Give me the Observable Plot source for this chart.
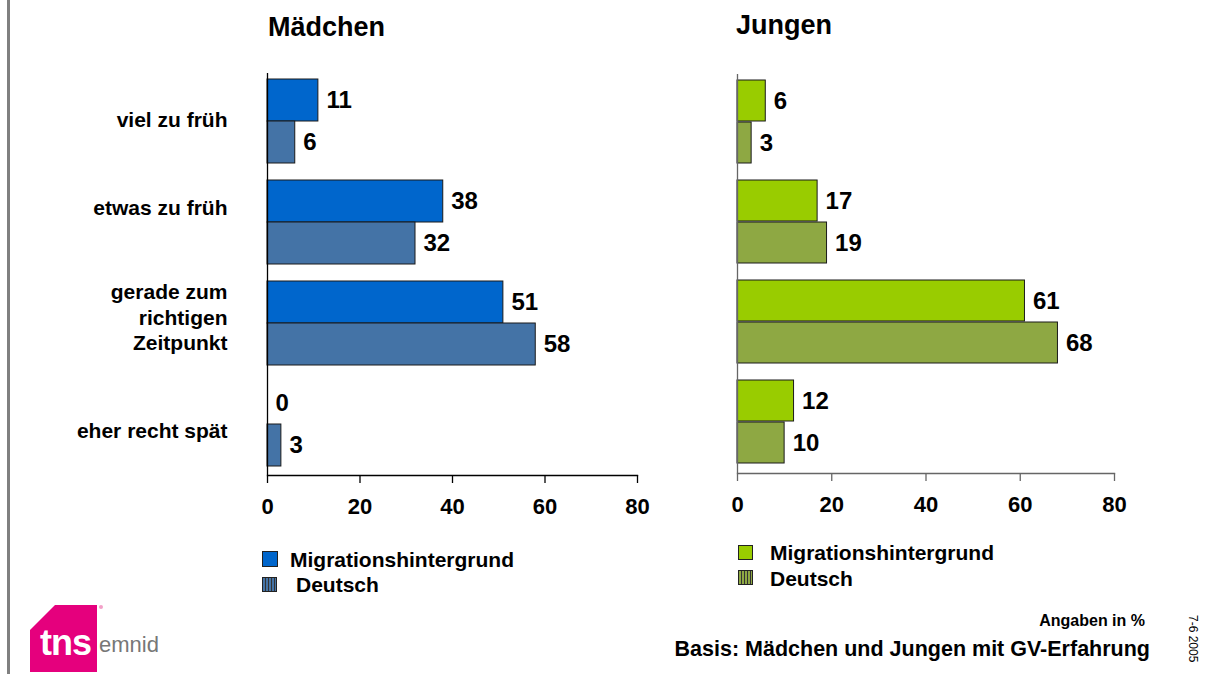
<!DOCTYPE html>
<html><head><meta charset="utf-8">
<script src="https://cdn.jsdelivr.net/npm/d3@7"></script>
<script src="https://cdn.jsdelivr.net/npm/@observablehq/plot@0.6"></script>
<style>
body{margin:0;background:#fff;font-family:"Liberation Sans",Arial,sans-serif;}
#root{position:relative;width:1206px;height:674px;overflow:hidden;background:#fff;}
.abs{position:absolute;white-space:nowrap;font-weight:bold;color:#000;line-height:1;}
.sw{position:absolute;box-sizing:border-box;border:1px solid #222;}
.plot{position:absolute;top:0;}
</style></head><body><div id="root"></div>
<script>
const categories = ["viel zu früh", "etwas zu früh", "gerade zum richtigen Zeitpunkt", "eher recht spät"];
const categoryLabels = ["viel zu früh", "etwas zu früh", "gerade zum\nrichtigen\nZeitpunkt", "eher recht spät"];
const series = ["Migrationshintergrund", "Deutsch"];
const maedchenMigration = [11, 38, 51, 0];
const maedchenDeutsch = [6, 32, 58, 3];
const jungenMigration = [6, 17, 61, 12];
const jungenDeutsch = [3, 19, 68, 10];
const xTicks = [0, 20, 40, 60, 80];
const maedchenColors = ["#0066CC", "#4473A6"];
const jungenColors = ["#99CC00", "#8EA843"];

const root = document.getElementById("root");

function panel({mig, deu, colors, axisColor, showLabels, width, marginLeft, marginRight, yRange, axisY}) {
  const H = 540;
  const rows = categories.flatMap((c, i) => [
    {category: c, series: series[0], value: mig[i]},
    {category: c, series: series[1], value: deu[i]}
  ]);
  const migRows = rows.filter(d => d.series === series[0]);
  const deuRows = rows.filter(d => d.series === series[1]);
  const marks = [
    Plot.barX(migRows, {x: "value", y: "category", fill: "series", stroke: "#1a1a1a", strokeWidth: 1, insetBottom: 42}),
    Plot.barX(deuRows, {x: "value", y: "category", fill: "series", stroke: "#1a1a1a", strokeWidth: 1, insetTop: 42}),
    Plot.text(migRows, {x: "value", y: "category", text: d => String(d.value), dx: 8, dy: -21, textAnchor: "start", fontSize: 24, fontWeight: "bold", fill: "#000"}),
    Plot.text(deuRows, {x: "value", y: "category", text: d => String(d.value), dx: 8, dy: 21, textAnchor: "start", fontSize: 24, fontWeight: "bold", fill: "#000"}),
    Plot.ruleX([0], {stroke: axisColor, strokeWidth: 1.3}),
    Plot.frame({anchor: "bottom", stroke: axisColor, strokeWidth: 1.3}),
    Plot.axisX({ticks: xTicks, tickSize: 8, tickPadding: 15, fontSize: 22, fontWeight: "bold", label: null, stroke: axisColor, strokeWidth: 1.3, fill: "#000"})
  ];
  if (showLabels) {
    // per-label vertical nudges to match the reference's text boxes
    const nudge = [-3, -16, -7, 5];
    categories.forEach((c, i) => {
      marks.push(Plot.text([c], {y: d => d, text: () => categoryLabels[i], frameAnchor: "left", dx: -40, dy: nudge[i],
        textAnchor: "end", fontSize: 21, fontWeight: "bold", lineHeight: 1.22, fill: "#000"}));
    });
  }
  return Plot.plot({
    width, height: H, marginLeft, marginRight, marginTop: yRange[0] + 4, marginBottom: H - axisY,
    style: {background: "transparent", fontFamily: "'Liberation Sans', Arial, sans-serif", overflow: "visible", color: "#000"},
    x: {domain: [0, 80]},
    y: {domain: categories, range: yRange, paddingInner: 0.1724, paddingOuter: 0.0862, axis: null},
    color: {domain: series, range: colors},
    marks
  });
}

const left = panel({mig: maedchenMigration, deu: maedchenDeutsch, colors: maedchenColors, axisColor: "#000", showLabels: true,
  width: 660, marginLeft: 267, marginRight: 23, yRange: [69, 475], axisY: 475});
left.classList.add("plot");
left.style.left = "0px";
root.appendChild(left);

const right = panel({mig: jungenMigration, deu: jungenDeutsch, colors: jungenColors, axisColor: "#666", showLabels: false,
  width: 546, marginLeft: 77, marginRight: 92, yRange: [70, 472], axisY: 473});
right.classList.add("plot");
right.style.left = "660px";
root.appendChild(right);

function addText(txt, x, y, size, opts = {}) {
  const d = document.createElement("div");
  d.className = "abs";
  d.textContent = txt;
  d.style.fontSize = size + "px";
  d.style.top = (y - size / 2) + "px";
  if (opts.right) { d.style.right = (1206 - x) + "px"; } else { d.style.left = x + "px"; }
  if (opts.weight) d.style.fontWeight = opts.weight;
  root.appendChild(d);
  return d;
}
function addSwatch(x, y, w, h, color, striped) {
  const s = document.createElement("div");
  s.className = "sw";
  s.style.left = x + "px"; s.style.top = y + "px"; s.style.width = w + "px"; s.style.height = h + "px";
  s.style.background = striped ? `repeating-linear-gradient(90deg, ${color} 0px, ${color} 2px, #333 2px, #333 3px)` : color;
  root.appendChild(s);
}

// titles
addText("Mädchen", 268, 27, 27);
addText("Jungen", 736, 25, 27);

// legends
addSwatch(262, 551, 16, 16, maedchenColors[0], false);
addText(series[0], 290, 559, 21);
addSwatch(262, 577, 15, 15, maedchenColors[1], true);
addText(series[1], 296, 584, 21);
addSwatch(738, 545, 15, 15, jungenColors[0], false);
addText(series[0], 770, 552, 21);
addSwatch(738, 570, 15, 15, jungenColors[1], true);
addText(series[1], 770, 578, 21);

// footer
addText("Angaben in %", 1145, 621, 16, {right: true});
addText("Basis: Mädchen und Jungen mit GV-Erfahrung", 1150, 650, 21.5, {right: true});
const v = addText("7-6 2005", 1185, 615, 12, {weight: "normal"});
v.style.top = "615px";
v.style.transformOrigin = "0 0";
v.style.transform = "translate(14px,0) rotate(90deg)";

// left border line
const line = document.createElement("div");
line.style.cssText = "position:absolute;left:7px;top:0;width:3px;height:674px;background:#808080;";
root.appendChild(line);

// logo
const logo = document.createElementNS("http://www.w3.org/2000/svg", "svg");
logo.setAttribute("width", "170"); logo.setAttribute("height", "80");
logo.style.cssText = "position:absolute;left:0;top:598px;";
logo.innerHTML = `
  <polygon points="55,7 97,7 97,74 30,74 30,32" fill="#E5007D"/>
  <circle cx="101" cy="9" r="2" fill="#f3a0c8"/>
  <text x="40" y="57" font-family="Liberation Sans, Arial" font-weight="bold" font-size="36" fill="#fff" letter-spacing="-1">tns</text>
  <text x="99" y="54" font-family="Liberation Sans Narrow, Liberation Sans, Arial" font-size="22" fill="#777">emnid</text>`;
root.appendChild(logo);
</script>
</body></html>
